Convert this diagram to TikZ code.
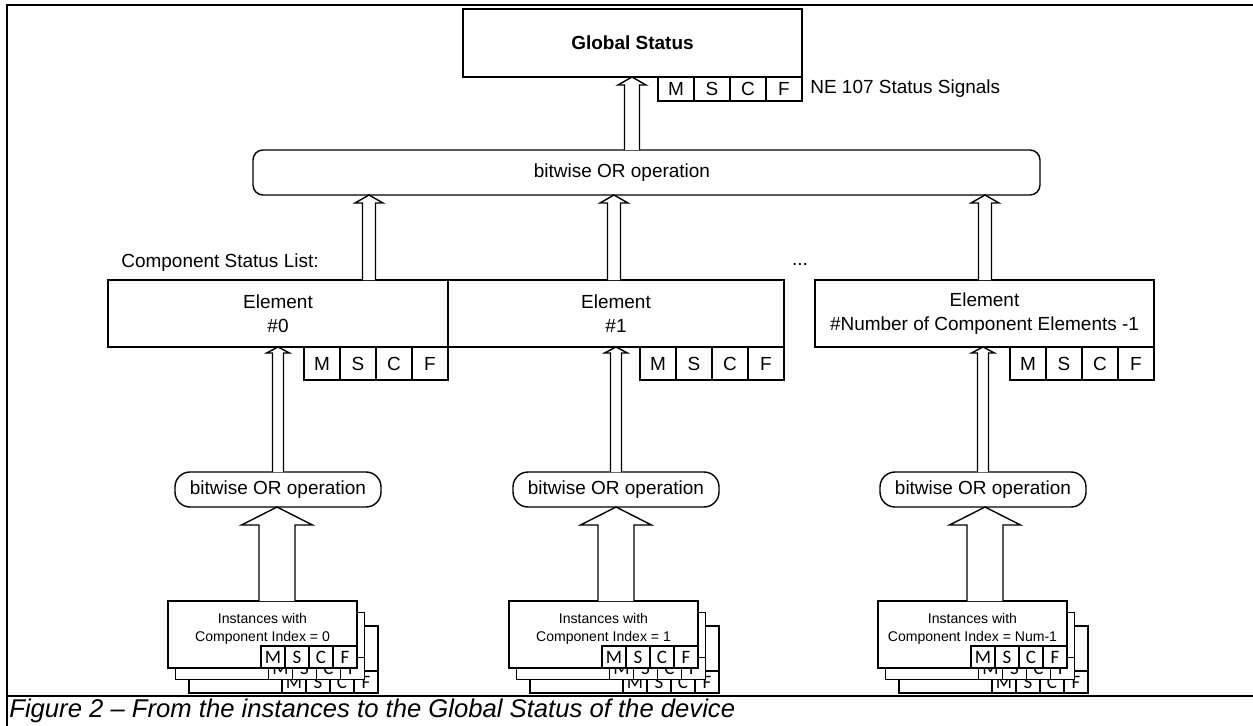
\documentclass[tikz,border=0pt]{standalone}
\usepackage{fontspec}
\setmainfont{Liberation Sans}
\newfontfamily\cellfont{Carlito}
\usetikzlibrary{positioning,calc}
\newdimen\pxl \pxl=0.02cm
\tikzstyle{box} = [rectangle, draw, line width=0.8pt, fill=white, inner sep=0pt, outer sep=0pt, align=center, font=\fontsize{10.8}{13.6}\selectfont]
\tikzstyle{cell} = [box, minimum width=36\pxl, minimum height=33\pxl]
\tikzstyle{gcell} = [cell, minimum height=24\pxl]
\tikzstyle{icell} = [box, minimum width=24\pxl, minimum height=22\pxl, font=\cellfont\fontsize{10.8}{12}\selectfont]
\tikzstyle{element} = [box, minimum height=67\pxl]
\tikzstyle{orop} = [box, rounded corners=15\pxl, minimum width=206\pxl, minimum height=35\pxl]
\tikzstyle{instance} = [box, minimum width=189\pxl, minimum height=67\pxl]
\tikzstyle{insttext} = [inner sep=0pt, align=center, font=\fontsize{8}{10.2}\selectfont]
\tikzstyle{plain} = [inner sep=0pt, font=\fontsize{10.8}{13.6}\selectfont]
\tikzstyle{arrowline} = [line width=0.8pt, fill=white]
\tikzstyle{frame} = [line width=1.2pt]

% M S C F row under a node: #1 prefix, #2 node, #3 cell style, #4 anchor
\newcommand{\statusrow}[4]{%
  \node[#3, anchor=#4] (#1F) at (#2.south east) {F};
  \node[#3, left=0pt of #1F] (#1C) {C};
  \node[#3, left=0pt of #1C] (#1S) {S};
  \node[#3, left=0pt of #1S] (#1M) {M};
}
% hollow upward arrow: #1 x, #2 from, #3 to, #4 half shaft, #5 half head, #6 head length
\newcommand{\hollowup}[6]{%
  \draw[arrowline] ($(#1,0 |- #2.north)+(-#4,0)$) -- ($(#1,0 |- #3.south)+(-#4,#6)$)
    -- ($(#1,0 |- #3.south)+(-#5,#6)$) -- (#1,0 |- #3.south)
    -- ($(#1,0 |- #3.south)+(#5,#6)$) -- ($(#1,0 |- #3.south)+(#4,#6)$)
    -- ($(#1,0 |- #2.north)+(#4,0)$);
}
% stack of instance boxes: #1 name, #2 x centre of front box, #3 index
\newcommand{\instancestack}[3]{%
  \node[instance] (#1c) at (#2+21, 659.5) {};
  \statusrow{#1c}{#1c}{icell}{south east}
  \node[instance] (#1b) at (#2+7.5, 646) {};
  \statusrow{#1b}{#1b}{icell}{south east}
  \node[instance] (#1a) at (#2, 634.5) {};
  \statusrow{#1a}{#1a}{icell}{south east}
  \node[insttext, below=12\pxl of #1a.north] (#1t) {Instances with\\Component Index = #3};
}

\begin{document}
\begin{tikzpicture}[x=0.02cm, y=-0.02cm]
    \useasboundingbox (0,0) rectangle (1253,726);

    % Frame
    \draw[frame] (1253,5) -- (7,5) -- (7,726);
    \draw[frame] (7,696) -- (1253,696);

    % Global status
    \node[box, minimum width=339\pxl, minimum height=68\pxl, font=\fontsize{10.8}{13.6}\selectfont\bfseries] (glob) at (632.5,43) {Global Status};
    \statusrow{g}{glob}{gcell}{north east}
    \node[plain, anchor=west] (signals) at (810,89) {NE 107 Status Signals};

    % Top OR
    \node[box, rounded corners=10\pxl, minimum width=787\pxl, minimum height=45\pxl] (orTop) at (646.5,172.5) {};
    \node[plain] (orTopText) at (622,172.5) {bitwise OR operation};

    % Component status list
    \node[plain, anchor=west] (list) at (121,263) {Component Status List:};
    \node[element, minimum width=340\pxl] (el0) at (278,313.5) {Element\\\#0};
    \node[element, minimum width=336\pxl] (el1) at (616,313.5) {Element\\\#1};
    \node[plain] (dots) at (800,264) {...};
    \node[element, minimum width=339\pxl] (elN) at (984.5,313.5) {Element\\\#Number of Component Elements -1};
    \statusrow{e0}{el0}{cell}{north east}
    \statusrow{e1}{el1}{cell}{north east}
    \statusrow{eN}{elN}{cell}{north east}

    % Lower OR operations
    \node[orop] (or0) at (278,489.5) {bitwise OR operation};
    \node[orop] (or1) at (616,489.5) {bitwise OR operation};
    \node[orop] (or2) at (983,489.5) {bitwise OR operation};

    % Instances
    \instancestack{i0}{262.5}{0}
    \instancestack{i1}{603.5}{1}
    \instancestack{i2}{972.5}{Num-1}

    % Arrows
    \hollowup{632}{orTop}{glob}{7.5}{14}{8}
    \hollowup{369}{el0}{orTop}{6.5}{14}{8}
    \hollowup{614}{el1}{orTop}{6.5}{14}{8}
    \hollowup{985}{elN}{orTop}{6.5}{14}{8}
    \hollowup{278}{or0}{el0}{5.5}{11.5}{6}
    \hollowup{616}{or1}{el1}{5.5}{11.5}{6}
    \hollowup{983}{or2}{elN}{5.5}{11.5}{6}
    \hollowup{277}{i0a}{or0}{18}{35.5}{18}
    \hollowup{616}{i1a}{or1}{18}{35.5}{18}
    \hollowup{985}{i2a}{or2}{18}{35.5}{18}

    % Caption
    \node[inner sep=0pt, anchor=west, font=\fontsize{14.6}{17}\selectfont\itshape] (caption) at (9,711) {Figure 2 – From the instances to the Global Status of the device};
\end{tikzpicture}
\end{document}
